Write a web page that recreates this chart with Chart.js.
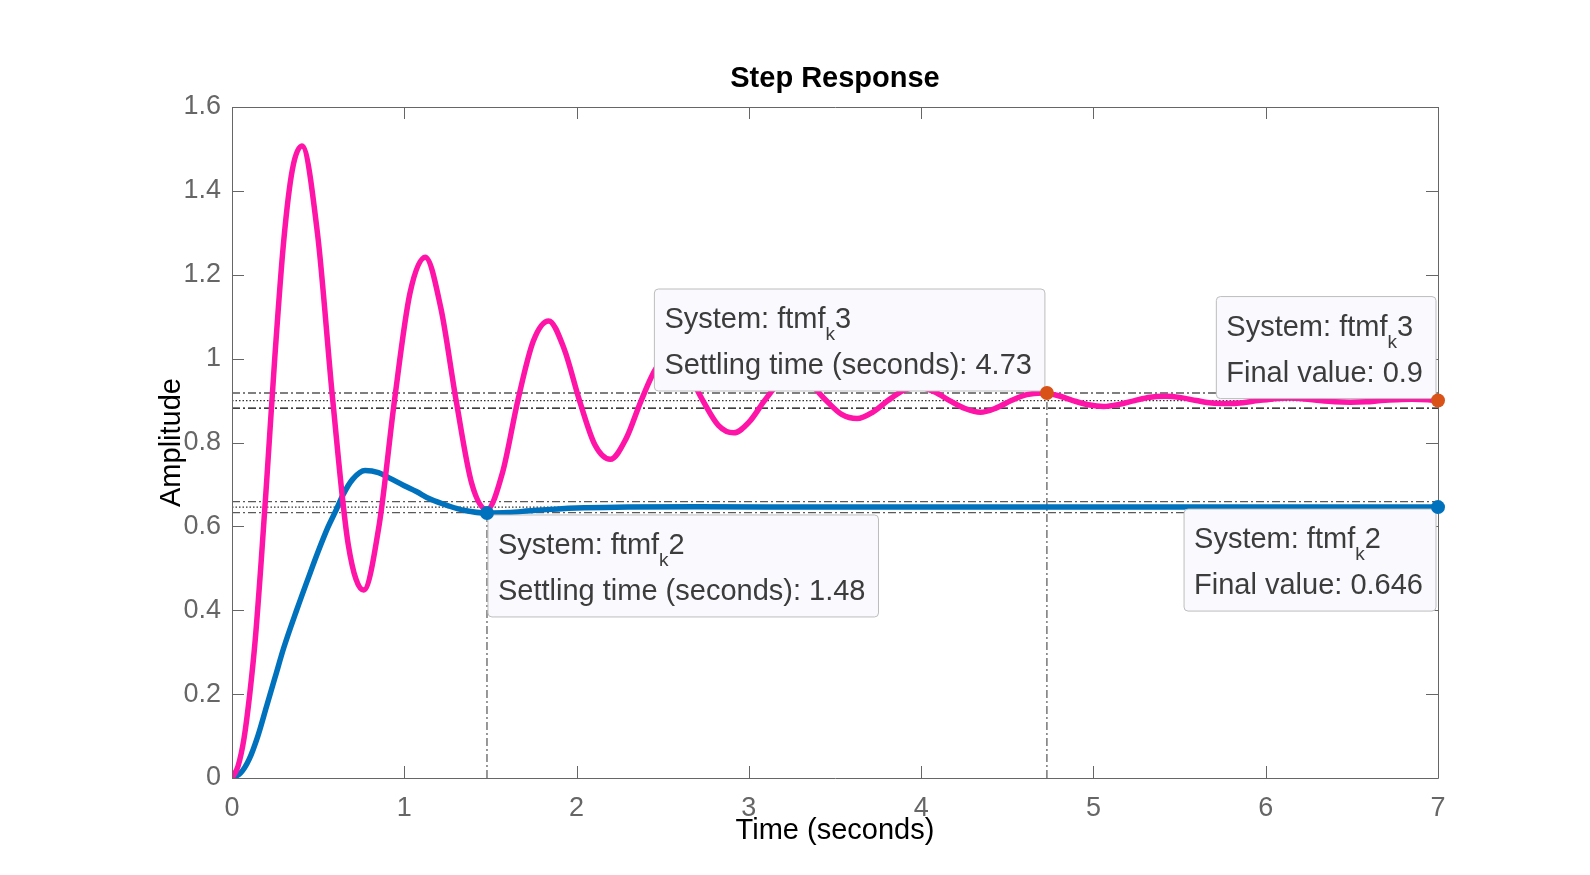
<!DOCTYPE html>
<html><head><meta charset="utf-8">
<script src="https://cdn.jsdelivr.net/npm/chart.js@4"></script>
<style>html,body{margin:0;padding:0;background:#fff;}canvas{display:block}</style>
</head><body>
<canvas id="c" width="1590" height="875"></canvas>
<script>
// ---- data ----
const xTicks = [0, 1, 2, 3, 4, 5, 6, 7];
const xTickLabels = ['0', '1', '2', '3', '4', '5', '6', '7'];
const yTicks = [0, 0.2, 0.4, 0.6, 0.8, 1, 1.2, 1.4, 1.6];
const yTickLabels = ['0', '0.2', '0.4', '0.6', '0.8', '1', '1.2', '1.4', '1.6'];

// ftmf_k2 (blue)
const tK2 = [0,0.05,0.1,0.15,0.2,0.25,0.3,0.375,0.45,0.5,0.557,0.6,0.644,0.7,0.772,0.85,0.915,1.0,1.07,1.15,1.263,1.35,1.478,1.6,1.75,2.0,2.3,2.7,3.5,5,7];
const yK2 = [0,0.012,0.045,0.1,0.17,0.24,0.31,0.40,0.485,0.54,0.598,0.635,0.675,0.712,0.733,0.728,0.715,0.697,0.683,0.665,0.648,0.638,0.632,0.633,0.638,0.644,0.646,0.647,0.646,0.646,0.646];

// ftmf_k3 (pink)
const tK3 = [0,0.035,0.07,0.103,0.135,0.17,0.2,0.248,0.3,0.35,
  0.406,0.496,0.585,0.675,0.764,0.854,0.943,1.033,1.122,1.212,1.301,1.391,1.48,1.57,1.659,1.749,1.838,1.928,2.017,2.107,2.196,2.286,2.375,2.465,2.554,2.644,2.733,2.823,2.912,3.002,3.091,3.181,3.27,3.36,3.449,3.539,3.628,3.718,3.807,3.897,3.986,4.076,4.165,4.255,4.344,4.434,4.523,4.613,4.702,4.792,4.881,4.971,5.06,5.15,5.239,5.329,5.418,5.508,5.597,5.687,5.776,5.866,5.955,6.045,6.134,6.224,6.313,6.403,6.492,6.582,6.671,6.761,6.85,6.94,7];
const yK3 = [0,0.028,0.095,0.2,0.33,0.52,0.70,1.0,1.28,1.45,
  1.507,1.299,0.9,0.556,0.448,0.603,0.9,1.156,1.242,1.121,0.9,0.703,0.64,0.728,0.9,1.042,1.09,1.023,0.9,0.794,0.76,0.808,0.9,0.979,1.004,0.968,0.9,0.841,0.823,0.849,0.9,0.944,0.958,0.938,0.9,0.867,0.857,0.872,0.9,0.924,0.932,0.921,0.9,0.881,0.872,0.882,0.9,0.914,0.918,0.912,0.9,0.89,0.886,0.891,0.9,0.908,0.91,0.907,0.9,0.894,0.893,0.895,0.9,0.904,0.906,0.904,0.9,0.897,0.896,0.897,0.9,0.902,0.903,0.902,0.9];

// characteristics (data tips)
const finalK2 = 0.646, finalK3 = 0.9;
const settleTK2 = 1.48, settleYK2 = 0.632;
const settleTK3 = 4.73, settleYK3 = 0.918;
const bandK2 = [0.633, 0.646, 0.659];
const bandK3 = [0.882, 0.9, 0.918];
const tEnd = 7;

// ---- styles ----
const PINK = '#FF14A8', BLUE = '#0072BD', ORANGE = '#D95319';
const AXIS = '#666666';
const FONT = "'Liberation Sans', Arial, Helvetica, sans-serif";
const DASHDOT = [8, 3, 2, 3], DOTTED = [1.5, 2];

const pts = (ts, ys) => ts.map((t, i) => ({x: t, y: ys[i]}));
const hline = (y) => [{x: 0, y: y}, {x: tEnd, y: y}];
const vline = (x, y) => [{x: x, y: 0}, {x: x, y: y}];

function lineDs(data, color, dash, order) {
  return {type: 'line', data, borderColor: color, borderWidth: 1.2, borderDash: dash,
    pointRadius: 0, order, tension: 0};
}

const datasets = [
  {type: 'scatter', label: 'marksK3', data: [{x: settleTK3, y: settleYK3}, {x: tEnd, y: finalK3}],
    pointRadius: 7, pointBackgroundColor: ORANGE, pointBorderWidth: 0, order: 0, clip: false},
  {type: 'scatter', label: 'marksK2', data: [{x: settleTK2, y: settleYK2}, {x: tEnd, y: finalK2}],
    pointRadius: 7, pointBackgroundColor: BLUE, pointBorderWidth: 0, order: 1, clip: false},
  {type: 'line', label: 'ftmf_k3', data: pts(tK3, yK3), borderColor: PINK, borderWidth: 5.5,
    pointRadius: 0, cubicInterpolationMode: 'monotone', order: 2, borderCapStyle: 'round', borderJoinStyle: 'round'},
  {type: 'line', label: 'ftmf_k2', data: pts(tK2, yK2), borderColor: BLUE, borderWidth: 5.5,
    pointRadius: 0, cubicInterpolationMode: 'monotone', order: 3, borderCapStyle: 'round', borderJoinStyle: 'round'},
  lineDs(hline(bandK3[0]), '#000', DASHDOT, 5),
  lineDs(hline(bandK3[1]), '#333', DOTTED, 5),
  lineDs(hline(bandK3[2]), '#000', DASHDOT, 5),
  lineDs(hline(bandK2[0]), '#5a5a5a', DASHDOT, 5),
  lineDs(hline(bandK2[1]), '#333', DOTTED, 5),
  lineDs(hline(bandK2[2]), '#5a5a5a', DASHDOT, 5),
  lineDs(vline(settleTK2, settleYK2), '#555', DASHDOT, 6),
  lineDs(vline(settleTK3, settleYK3), '#555', DASHDOT, 6)
];
const PINK_INDEX = 2;

const TIP_FONT = "29px " + FONT;
const SUB_FONT = "19px " + FONT;

function drawTip(ctx, sys, sub, num, line2, ax, ay, hAlign, vAlign) {
  ctx.save();
  ctx.font = TIP_FONT;
  const wa = ctx.measureText(sys).width;
  const wb = ctx.measureText(num).width;
  const w2 = ctx.measureText(line2).width;
  ctx.font = SUB_FONT;
  const wk = ctx.measureText(sub).width;
  const bw = Math.max(wa + wk + wb, w2) + 23;
  const bh = 102;
  const bx = hAlign === 'right' ? ax - 2 - bw : ax + 1;
  const by = vAlign === 'bottom' ? ay - 2 - bh : ay + 2;
  const r = 4;
  ctx.beginPath();
  ctx.moveTo(bx + r, by);
  ctx.lineTo(bx + bw - r, by);
  ctx.arcTo(bx + bw, by, bx + bw, by + r, r);
  ctx.lineTo(bx + bw, by + bh - r);
  ctx.arcTo(bx + bw, by + bh, bx + bw - r, by + bh, r);
  ctx.lineTo(bx + r, by + bh);
  ctx.arcTo(bx, by + bh, bx, by + bh - r, r);
  ctx.lineTo(bx, by + r);
  ctx.arcTo(bx, by, bx + r, by, r);
  ctx.closePath();
  ctx.fillStyle = '#F9F9FE';
  ctx.fill();
  ctx.lineWidth = 1;
  ctx.strokeStyle = '#BDBDBD';
  ctx.stroke();
  ctx.fillStyle = '#3c3c3c';
  ctx.textBaseline = 'alphabetic';
  ctx.textAlign = 'left';
  const tx = bx + 10, b1 = by + 39, b2 = by + 85;
  ctx.font = TIP_FONT;
  ctx.fillText(sys, tx, b1);
  ctx.font = SUB_FONT;
  ctx.fillText(sub, tx + wa, b1 + 12);
  ctx.font = TIP_FONT;
  ctx.fillText(num, tx + wa + wk, b1);
  ctx.fillText(line2, tx, b2);
  ctx.restore();
}

function drawFrame(chart) {
  const {ctx, chartArea: a, scales: {x, y}} = chart;
  ctx.save();
  ctx.strokeStyle = AXIS;
  ctx.lineWidth = 1;
  ctx.beginPath();
  ctx.rect(Math.round(a.left) + 0.5, Math.round(a.top) + 0.5, Math.round(a.right - a.left), Math.round(a.bottom - a.top));
  const tl = 12;
  xTicks.forEach(v => {
    const px = Math.round(x.getPixelForValue(v)) + 0.5;
    ctx.moveTo(px, a.bottom); ctx.lineTo(px, a.bottom - tl);
    ctx.moveTo(px, a.top); ctx.lineTo(px, a.top + tl);
  });
  yTicks.forEach(v => {
    const py = Math.round(y.getPixelForValue(v)) + 0.5;
    ctx.moveTo(a.left, py); ctx.lineTo(a.left + tl, py);
    ctx.moveTo(a.right, py); ctx.lineTo(a.right - tl, py);
  });
  ctx.stroke();
  ctx.restore();
}

const frame = {
  id: 'frame',
  afterDatasetDraw(chart, args) {
    if (args.index !== PINK_INDEX) return;
    const {ctx, scales: {x, y}} = chart;
    drawFrame(chart);
    drawTip(ctx, 'System: ftmf', 'k', '3', 'Settling time (seconds): ' + settleTK3,
      x.getPixelForValue(settleTK3), y.getPixelForValue(settleYK3), 'right', 'bottom');
    drawTip(ctx, 'System: ftmf', 'k', '3', 'Final value: ' + finalK3,
      x.getPixelForValue(tEnd), y.getPixelForValue(finalK3), 'right', 'bottom');
    drawTip(ctx, 'System: ftmf', 'k', '2', 'Final value: ' + finalK2,
      x.getPixelForValue(tEnd), y.getPixelForValue(finalK2), 'right', 'top');
    drawTip(ctx, 'System: ftmf', 'k', '2', 'Settling time (seconds): ' + settleTK2,
      x.getPixelForValue(settleTK2), y.getPixelForValue(settleYK2), 'left', 'top');
  }
};

new Chart(document.getElementById('c'), {
  data: {datasets},
  options: {
    responsive: false,
    animation: false,
    devicePixelRatio: 1,
    layout: {padding: {left: 0, right: 152, top: 0, bottom: 0}},
    plugins: {
      legend: {display: false},
      tooltip: {enabled: false},
      title: {display: true, fullSize: false, text: 'Step Response', color: '#000',
        font: {family: FONT, size: 29, weight: 'bold', lineHeight: 1.2},
        padding: {top: 61.6, bottom: 10.6}}
    },
    scales: {
      x: {type: 'linear', min: 0, max: 7,
        afterBuildTicks: s => { s.ticks = xTicks.map(v => ({value: v})); },
        afterFit: s => { s.height = 97; },
        grid: {display: false, drawTicks: false},
        border: {display: false},
        ticks: {callback: (v, i) => xTickLabels[i], color: AXIS, padding: 14, maxRotation: 0,
          font: {family: FONT, size: 27, lineHeight: 1.2}},
        title: {display: true, text: 'Time (seconds)', color: '#000',
          font: {family: FONT, size: 29, lineHeight: 1.2}, padding: {top: 0, bottom: 26.6}}
      },
      y: {type: 'linear', min: 0, max: 1.6,
        afterBuildTicks: s => { s.ticks = yTicks.map(v => ({value: v})); },
        afterFit: s => { s.width = 232; },
        grid: {display: false, drawTicks: false},
        border: {display: false},
        ticks: {callback: (v, i) => yTickLabels[i], color: AXIS, padding: 11,
          font: {family: FONT, size: 27, lineHeight: 1.2}},
        title: {display: true, text: 'Amplitude', color: '#000',
          font: {family: FONT, size: 29, lineHeight: 1.2}, padding: {top: 154.6, bottom: 0}}
      }
    }
  },
  plugins: [frame]
});
</script>
</body></html>
